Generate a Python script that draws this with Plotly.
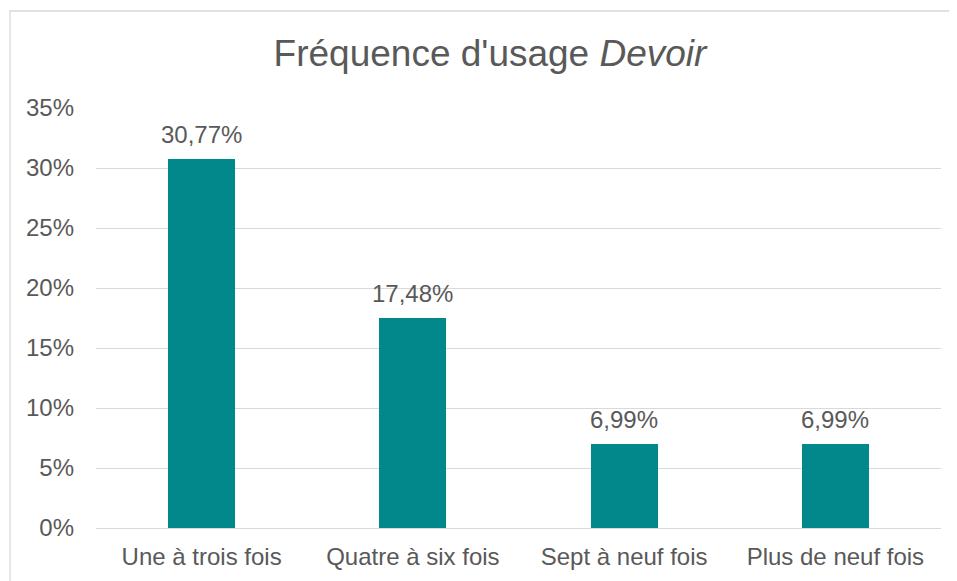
import plotly.graph_objects as go

categories = ["Une à trois fois", "Quatre à six fois", "Sept à neuf fois", "Plus de neuf fois"]
values = [30.77, 17.48, 6.99, 6.99]
y_ticks = [0, 5, 10, 15, 20, 25, 30, 35]
y_tick_labels = [f"{t}%" for t in y_ticks]
bar_labels = [f"{v:.2f}%".replace(".", ",") for v in values]

TEXT = "#595959"
GRID = "#D9D9D9"
BAR = "#00888A"
FONT = "Liberation Sans, Arial, sans-serif"

W, H = 957, 581
OFF = 8  # page body margin
L, R, T, B = 96 - OFF, W - (941 - OFF), 108 - OFF, H - (528 - OFF)

fig = go.Figure()
fig.add_trace(go.Bar(
    x=categories, y=values, width=0.317,
    marker=dict(color=BAR, line=dict(width=0)),
    hoverinfo="skip",
))

for c, v, lab in zip(categories, values, bar_labels):
    fig.add_annotation(x=c, y=v, text=lab, showarrow=False,
                       xref="x", yref="y", yanchor="bottom", yshift=9,
                       font=dict(family=FONT, size=24, color=TEXT))

pw = W - L - R
ph = H - T - B
fig.add_shape(type="rect", xref="paper", yref="paper",
              x0=(10 - OFF - L) / pw, x1=(975 - OFF - L) / pw,
              y0=(H - B - 600) / ph, y1=(H - B - (11 - OFF)) / ph,
              line=dict(color=GRID, width=1.3), fillcolor="rgba(0,0,0,0)", layer="below")

fig.update_layout(
    width=W, height=H,
    margin=dict(l=L, r=R, t=T, b=B),
    paper_bgcolor="white", plot_bgcolor="white",
    showlegend=False,
    font=dict(family=FONT, size=24, color=TEXT),
    title=dict(text="Fréquence d'usage <i>Devoir</i>", x=(490 - OFF) / W, xref="container", xanchor="center",
               y=1 - (53 - OFF) / H, yref="container", yanchor="middle",
               font=dict(family=FONT, size=37, color=TEXT)),
    bargap=0,
    xaxis=dict(type="category", range=[-0.5, 3.5], showgrid=False, showline=False,
               ticks="", zeroline=False, tickfont=dict(size=24, color=TEXT),
               ticklabelstandoff=12, fixedrange=True),
    yaxis=dict(range=[0, 35], tickvals=y_ticks, ticktext=y_tick_labels,
               showgrid=True, gridcolor=GRID, gridwidth=1.3, zeroline=True,
               zerolinecolor=GRID, zerolinewidth=1.3, showline=False, ticks="",
               ticklabelstandoff=21, tickfont=dict(size=24, color=TEXT), fixedrange=True),
)

fig.write_html("out.html", config={"displayModeBar": False})
